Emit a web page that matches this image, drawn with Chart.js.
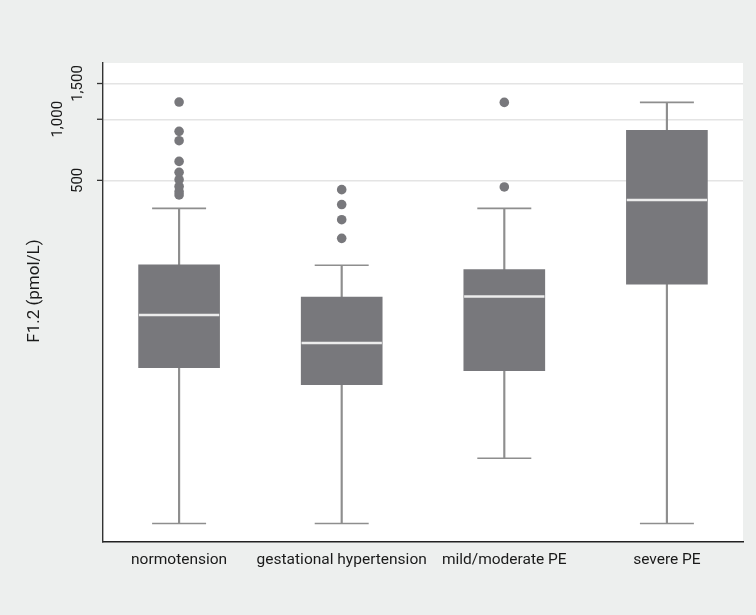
<!DOCTYPE html>
<html>
<head>
<meta charset="utf-8">
<script src="https://cdn.jsdelivr.net/npm/chart.js@4/dist/chart.umd.min.js"></script>
<style>
  html, body { margin: 0; padding: 0; background: #edefee; }
  #wrap { width: 756px; height: 615px; }
</style>
</head>
<body>
<div id="wrap"><canvas id="chart" width="756" height="615"></canvas></div>
<script>
// box plot values (pmol/L, log axis)
const categories = ['normotension', 'gestational hypertension', 'mild/moderate PE', 'severe PE'];
const positions = [1, 2, 3, 4];
const whiskerLow = [10.2, 10.2, 21.4, 10.2];
const q1 = [59.8, 49.3, 57.7, 154];
const medians = [108.7, 79, 134, 400];
const q3 = [191.6, 133, 182, 881];
const whiskerHigh = [364, 191, 364, 1211];
const outliers = [
  [424, 440, 467, 504, 548, 620, 784, 872, 1216],
  [259, 320, 380, 450],
  [464, 1211],
  []
];
const yTicks = [500, 1000, 1500];

const FONT = "Roboto, 'Open Sans', sans-serif";
const BOX = '#78787c';
const WHISKER = '#8e8e8e';

// helper: short horizontal segments around each category, split by gaps
function segments(values, halfWidth) {
  const pts = [];
  values.forEach((v, i) => {
    pts.push({ x: positions[i] - halfWidth, y: v });
    pts.push({ x: positions[i] + halfWidth, y: v });
    pts.push({ x: positions[i], y: null });
  });
  return pts;
}

const stems = positions.map((p, i) => ({ x: p, y: [whiskerLow[i], whiskerHigh[i]] }));
const boxes = positions.map((p, i) => ({ x: p, y: [q1[i], q3[i]] }));
const outlierPts = [];
outliers.forEach((list, i) => list.forEach(v => outlierPts.push({ x: positions[i], y: v })));

const backdrop = {
  id: 'backdrop',
  beforeDraw(chart) {
    const { ctx, chartArea: a } = chart;
    ctx.save();
    ctx.fillStyle = '#edefee';
    ctx.fillRect(0, 0, chart.width, chart.height);
    ctx.fillStyle = '#ffffff';
    ctx.fillRect(a.left, a.top, a.right - a.left, a.bottom - a.top);
    ctx.restore();
  }
};

const axisText = {
  id: 'axisText',
  afterDraw(chart) {
    const { ctx, chartArea: a } = chart;
    const y = chart.scales.y, x = chart.scales.x;
    ctx.save();
    ctx.fillStyle = '#1a1a1a';
    ctx.strokeStyle = '#333';
    ctx.lineWidth = 1.3;
    ctx.textAlign = 'center';
    ctx.textBaseline = 'middle';
    ctx.font = '15px ' + FONT;
    yTicks.forEach((v, i) => {
      const py = y.getPixelForValue(v);
      ctx.beginPath();
      ctx.moveTo(a.left - 6, py);
      ctx.lineTo(a.left, py);
      ctx.stroke();
      // stagger labels that would collide
      const off = i % 2 === 1 ? 45 : 25;
      ctx.save();
      ctx.translate(a.left - off, py);
      ctx.rotate(-Math.PI / 2);
      ctx.fillText(v.toLocaleString('en-US'), 0, 0);
      ctx.restore();
    });
    ctx.font = '15.5px ' + FONT;
    categories.forEach((c, i) => {
      ctx.fillText(c, x.getPixelForValue(positions[i]), a.bottom + 18);
    });
    ctx.font = '17px ' + FONT;
    ctx.translate(35, 291);
    ctx.rotate(-Math.PI / 2);
    ctx.fillText('F1.2 (pmol/L)', 0, 0);
    ctx.restore();
  }
};

new Chart(document.getElementById('chart'), {
  data: {
    datasets: [
      { type: 'scatter', data: outlierPts, backgroundColor: BOX, borderWidth: 0, pointRadius: 4.8, order: 0 },
      { type: 'line', data: segments(medians, 0.247), borderColor: '#ececec', borderWidth: 2.5, pointRadius: 0, order: 1 },
      { type: 'bar', data: boxes, backgroundColor: BOX, barThickness: 81, grouped: false, order: 2 },
      { type: 'line', data: segments(whiskerHigh, 0.166).concat(segments(whiskerLow, 0.166)), borderColor: WHISKER, borderWidth: 1.6, pointRadius: 0, order: 3 },
      { type: 'bar', data: stems, backgroundColor: WHISKER, barThickness: 1.5, grouped: false, order: 4 }
    ]
  },
  options: {
    responsive: false,
    animation: false,
    layout: { padding: { left: 103, top: 63, right: 13, bottom: 73 } },
    plugins: { legend: { display: false }, tooltip: { enabled: false } },
    scales: {
      x: {
        type: 'linear',
        min: 0.532,
        max: 4.468,
        offset: false,
        ticks: { display: false },
        grid: { display: false, drawTicks: false, offset: false },
        border: { display: true, color: '#222', width: 1.4 }
      },
      y: {
        type: 'logarithmic',
        min: 8.27,
        max: 1893,
        bounds: 'data',
        afterBuildTicks: scale => { scale.ticks = yTicks.map(v => ({ value: v })); },
        ticks: { display: false },
        grid: { color: '#e4e4e4', lineWidth: 1.5, drawTicks: false },
        border: { display: true, color: '#333', width: 1.4 }
      }
    }
  },
  plugins: [backdrop, axisText]
});
</script>
</body>
</html>
